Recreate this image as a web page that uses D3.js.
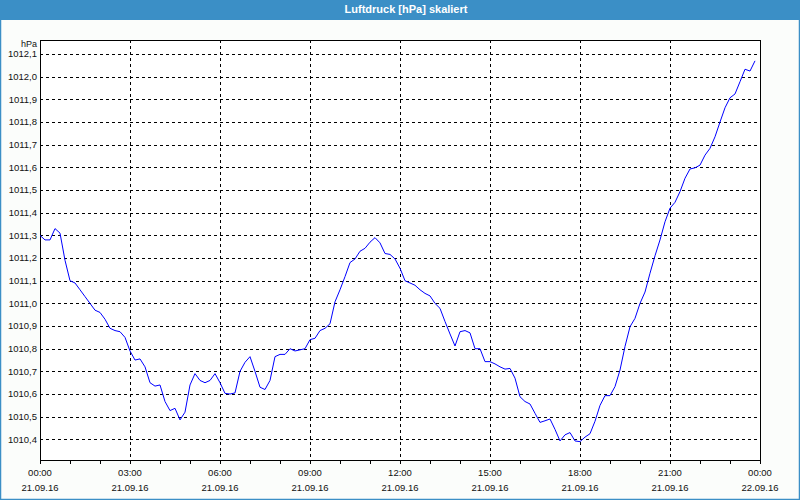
<!DOCTYPE html>
<html>
<head>
<meta charset="utf-8">
<script src="https://cdn.jsdelivr.net/npm/d3@7"></script>
<style>
  html, body { margin: 0; padding: 0; background: #fbfdfb; }
  svg { display: block; }
  text { font-family: "Liberation Sans", Arial, sans-serif; }
</style>
</head>
<body>
<svg id="chart" width="800" height="500"></svg>
<script>
// ---- data ----
const title = "Luftdruck [hPa] skaliert";
const unitLabel = "hPa";
const startTime = "2016-09-21T00:00:00";
const endTime = "2016-09-22T00:00:00";
const sampleMinutes = 10;
// pressure every 10 minutes from 21.09.16 00:00 to 23:50
const pressure = [
  1011.30, 1011.28, 1011.28, 1011.33, 1011.31, 1011.19, 1011.10, 1011.09, 1011.06, 1011.03,
  1011.00, 1010.97, 1010.96, 1010.93, 1010.89, 1010.88, 1010.875, 1010.85, 1010.79, 1010.75,
  1010.755, 1010.72, 1010.65, 1010.635, 1010.64, 1010.567, 1010.527, 1010.537, 1010.486, 1010.52,
  1010.64, 1010.69, 1010.66, 1010.65, 1010.66, 1010.69, 1010.65, 1010.603, 1010.60, 1010.605,
  1010.70, 1010.74, 1010.765, 1010.70, 1010.63, 1010.62, 1010.66, 1010.765, 1010.775, 1010.775,
  1010.80, 1010.79, 1010.795, 1010.80, 1010.84, 1010.846, 1010.88, 1010.89, 1010.91, 1011.007,
  1011.06, 1011.118, 1011.18, 1011.196, 1011.23, 1011.243, 1011.27, 1011.29, 1011.267, 1011.22,
  1011.216, 1011.196, 1011.155, 1011.10, 1011.09, 1011.08, 1011.06, 1011.044, 1011.033, 1011.00,
  1010.978, 1010.92, 1010.865, 1010.812, 1010.875, 1010.88, 1010.87, 1010.80, 1010.80, 1010.743,
  1010.743, 1010.733, 1010.72, 1010.71, 1010.713, 1010.67, 1010.588, 1010.567, 1010.556, 1010.515,
  1010.475, 1010.482, 1010.49, 1010.444, 1010.393, 1010.42, 1010.43, 1010.393, 1010.39, 1010.41,
  1010.425, 1010.48, 1010.55, 1010.593, 1010.593, 1010.633, 1010.706, 1010.81, 1010.897, 1010.934,
  1011.00, 1011.05, 1011.133, 1011.21, 1011.28, 1011.36, 1011.42, 1011.446, 1011.493, 1011.552,
  1011.593, 1011.598, 1011.61, 1011.654, 1011.684, 1011.735, 1011.80, 1011.863, 1011.907, 1011.924,
  1011.978, 1012.033, 1012.025, 1012.07
];
const yTicks = [1010.4, 1010.5, 1010.6, 1010.7, 1010.8, 1010.9, 1011.0, 1011.1, 1011.2,
                1011.3, 1011.4, 1011.5, 1011.6, 1011.7, 1011.8, 1011.9, 1012.0, 1012.1];
const yDomain = [1010.309, 1012.162];

// ---- layout ----
const W = 800, H = 500;
const plot = { left: 40, right: 760, top: 40, bottom: 460 };
const svg = d3.select("#chart");

const t0 = new Date(startTime), t1 = new Date(endTime);
const data = pressure.map((v, i) => ({ t: new Date(t0.getTime() + i * sampleMinutes * 60000), v }));

const x = d3.scaleTime().domain([t0, t1]).range([plot.left, plot.right]);
const y = d3.scaleLinear().domain(yDomain).range([plot.bottom, plot.top]);

// background
svg.append("rect").attr("width", W).attr("height", H).attr("fill", "#fbfdfb");
svg.append("rect").attr("x", plot.left).attr("y", plot.top)
  .attr("width", plot.right - plot.left).attr("height", plot.bottom - plot.top).attr("fill", "#ffffff");

// title bar
svg.append("rect").attr("x", 0).attr("y", 0).attr("width", W).attr("height", 20).attr("fill", "#3b8fc6");
svg.append("text").attr("x", 406).attr("y", 13).attr("text-anchor", "middle")
  .attr("fill", "#ffffff").attr("font-weight", "bold").attr("font-size", "11px").text(title);

// outer border
svg.append("path").attr("d", `M0.5,20 V${H - 0.5} H${W - 0.5} V20`)
  .attr("fill", "none").attr("stroke", "#3b8fc6").attr("stroke-width", 1.5);

// horizontal grid
const fmt = v => d3.format(".1f")(v).replace(".", ",");
svg.append("g").selectAll("line").data(yTicks).join("line")
  .attr("x1", plot.left).attr("x2", plot.right)
  .attr("y1", d => Math.round(y(d)) + 0.5).attr("y2", d => Math.round(y(d)) + 0.5)
  .attr("stroke", "#000").attr("stroke-dasharray", "3,3").attr("shape-rendering", "crispEdges");

// vertical grid every 3 hours
const majorTimes = d3.timeHour.every(3).range(t0, d3.timeHour.offset(t1, 1));
svg.append("g").selectAll("line").data(majorTimes.filter(d => d > t0 && d < t1)).join("line")
  .attr("y1", plot.top).attr("y2", plot.bottom)
  .attr("x1", d => Math.round(x(d)) + 0.5).attr("x2", d => Math.round(x(d)) + 0.5)
  .attr("stroke", "#000").attr("stroke-dasharray", "3,3").attr("shape-rendering", "crispEdges");

// y labels
svg.append("g").selectAll("text").data(yTicks).join("text")
  .attr("x", 37).attr("y", d => y(d)).attr("dy", "0.35em")
  .attr("text-anchor", "end").attr("font-size", "9.5px").attr("fill", "#111")
  .text(fmt);
svg.append("text").attr("x", 37).attr("y", 47)
  .attr("text-anchor", "end").attr("font-size", "9px").attr("fill", "#111").text(unitLabel);

// hourly ticks on bottom axis
const hours = d3.timeHour.every(1).range(t0, d3.timeHour.offset(t1, 1));
svg.append("g").selectAll("line").data(hours).join("line")
  .attr("x1", d => Math.round(x(d)) + 0.5).attr("x2", d => Math.round(x(d)) + 0.5)
  .attr("y1", plot.bottom).attr("y2", plot.bottom + 4)
  .attr("stroke", "#000").attr("shape-rendering", "crispEdges");

// x labels
const fTime = d3.timeFormat("%H:%M"), fDate = d3.timeFormat("%d.%m.%y");
const xl = svg.append("g").selectAll("g").data(majorTimes).join("g");
xl.append("text").attr("x", d => x(d)).attr("y", 473).attr("dy", "0.35em")
  .attr("text-anchor", "middle").attr("font-size", "9.5px").attr("fill", "#111").text(fTime);
xl.append("text").attr("x", d => x(d)).attr("y", 488).attr("dy", "0.35em")
  .attr("text-anchor", "middle").attr("font-size", "9.5px").attr("fill", "#111").text(fDate);

// frame
svg.append("rect").attr("x", plot.left + 0.5).attr("y", plot.top + 0.5)
  .attr("width", plot.right - plot.left).attr("height", plot.bottom - plot.top)
  .attr("fill", "none").attr("stroke", "#000").attr("shape-rendering", "crispEdges");

// line
const line = d3.line().x(d => x(d.t)).y(d => y(d.v));
svg.append("path").datum(data).attr("d", line)
  .attr("fill", "none").attr("stroke", "#0000ff").attr("stroke-width", 1);
</script>
</body>
</html>
